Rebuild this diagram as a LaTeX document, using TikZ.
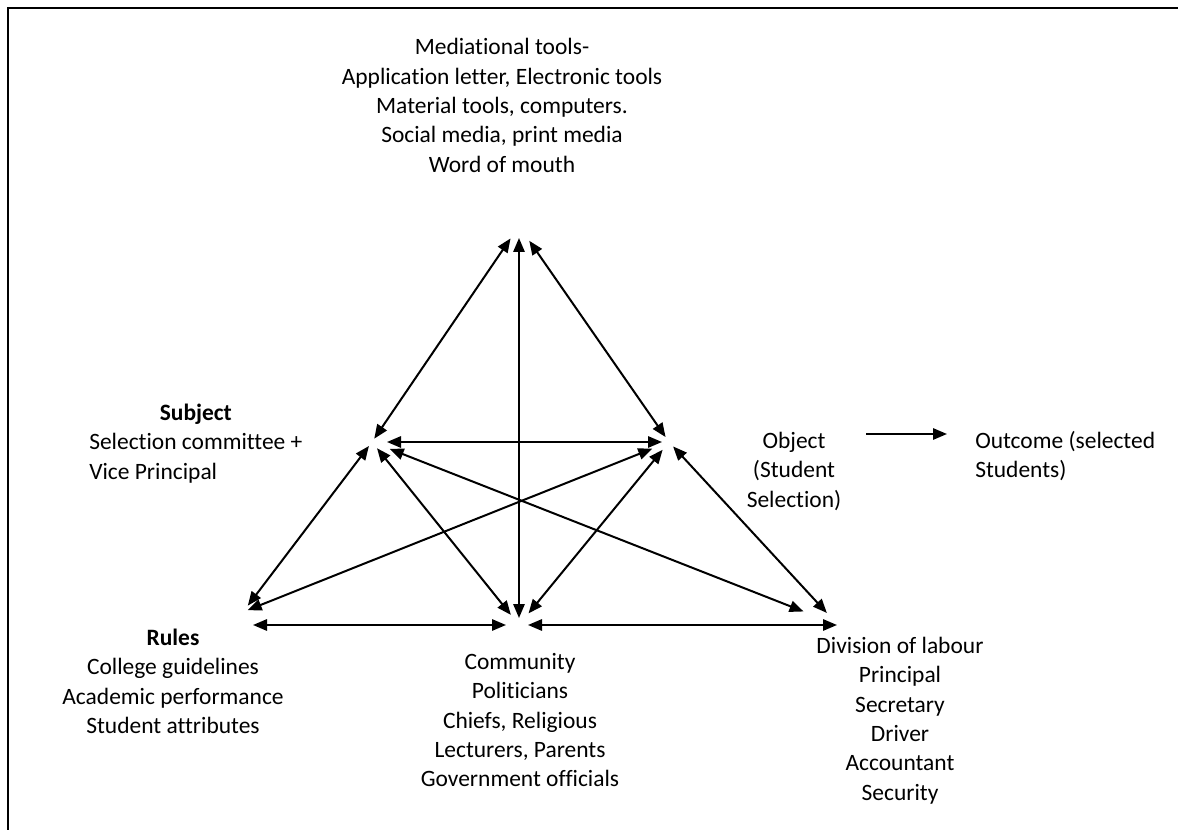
\documentclass[tikz,border=0pt]{standalone}
\usepackage{fontspec}
\setmainfont{Carlito}[Ligatures=NoCommon]
\usetikzlibrary{arrows.meta,calc}
\begin{document}
\begin{tikzpicture}[x=0.75pt,y=-0.75pt,
  arr/.style={line width=1.5pt,{Triangle[length=10.5pt,width=8.5pt]}-{Triangle[length=10.5pt,width=8.5pt]}},
  one/.style={line width=1.5pt,-{Triangle[length=10.5pt,width=8.5pt]}},
  txt/.style={inner sep=0pt,font=\fontsize{17.6}{22}\selectfont}]
\useasboundingbox (0,0) rectangle (1178,830);
\draw[line width=2.2pt] (8,830) -- (8,8) -- (1178,8);

% text blocks
\node[txt,anchor=base] (tools) at (502,55) {\begin{tabular}[t]{@{}c@{}}Mediational tools-\\Application letter, Electronic tools\\Material tools, computers.\\Social media, print media\\Word of mouth\end{tabular}};
\node[txt,anchor=base west] (subj) at (89,420.5) {\begin{tabular}[t]{@{}l@{}}\multicolumn{1}{@{}c@{}}{\textbf{Subject}}\\Selection committee +\\Vice Principal\end{tabular}};
\node[txt,anchor=base] (obj) at (794,448.5) {\begin{tabular}[t]{@{}c@{}}Object\\(Student\\Selection)\end{tabular}};
\node[txt,anchor=base west] (out) at (975,448.5) {\begin{tabular}[t]{@{}l@{}}Outcome (selected\\Students)\end{tabular}};
\node[txt,anchor=base] (rules) at (173,645.5) {\begin{tabular}[t]{@{}c@{}}\textbf{Rules}\\College guidelines\\Academic performance\\Student attributes\end{tabular}};
\node[txt,anchor=base] (comm) at (520,669.5) {\begin{tabular}[t]{@{}c@{}}Community\\Politicians\\Chiefs, Religious\\Lecturers, Parents\\Government officials\end{tabular}};
\node[txt,anchor=base] (div) at (900,653.5) {\begin{tabular}[t]{@{}c@{}}Division of labour\\Principal\\Secretary\\Driver\\Accountant\\Security\end{tabular}};

% vertices
\coordinate (T) at (519,226);
\coordinate (S) at (372,442);
\coordinate (O) at (669,442);
\coordinate (R) at (243,612);
\coordinate (C) at (519,625);
\coordinate (D) at (838,625);
\coordinate (Rb) at (243,625);

% connectors
\draw[arr,shorten <=11.25pt,shorten >=3pt] (T) -- (S);
\draw[arr,shorten <=9pt,shorten >=5.25pt] (T) -- (C);
\draw[arr,shorten <=13.5pt,shorten >=4.5pt] (T) -- (O);
\draw[arr,shorten <=11.25pt,shorten >=5.25pt] (S) -- (O);
\draw[arr,shorten <=3.75pt,shorten >=6pt] (S) -- (R);
\draw[arr,shorten <=3.75pt,shorten >=13.5pt] (R) -- (O);
\draw[arr,shorten <=6pt,shorten >=9.75pt] (S) -- (C);
\draw[arr,shorten <=14.25pt,shorten >=27.75pt] (S) -- (D);
\draw[arr,shorten <=7.5pt,shorten >=11.25pt] (O) -- (C);
\draw[arr,shorten <=4.5pt,shorten >=12.3pt] (O) -- (D);
\draw[arr,shorten <=7.5pt,shorten >=9.75pt] (Rb) -- (C);
\draw[arr,shorten <=6.75pt,shorten >=0.75pt] (C) -- (D);

% object -> outcome
\coordinate (a1) at (866,434);
\coordinate (a2) at (947,434);
\draw[one] (a1) -- (a2);
\end{tikzpicture}
\end{document}
